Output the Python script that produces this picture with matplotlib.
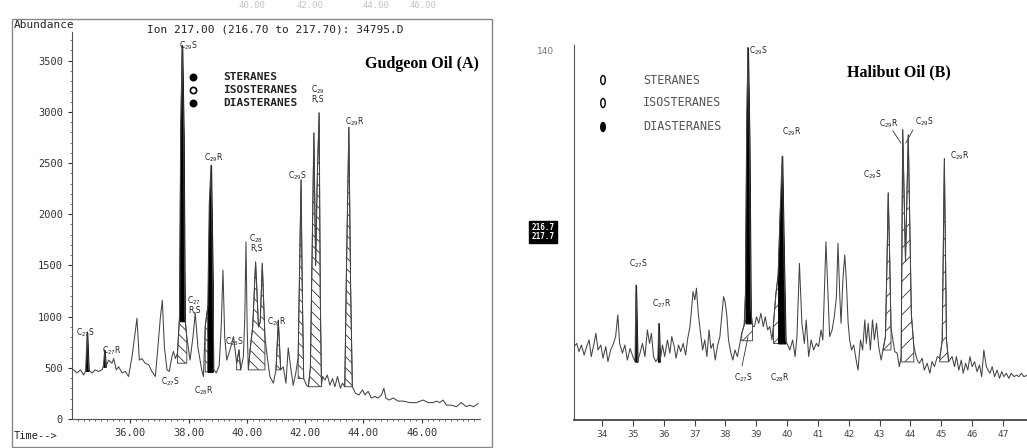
import numpy as np
import matplotlib.pyplot as plt
from matplotlib.lines import Line2D
from matplotlib.patches import Rectangle, Ellipse

# ---- Gudgeon oil (A), m/z 217 trace ----
a_time = [34.02, 34.06, 34.17, 34.29, 34.40, 34.47, 34.52, 34.57, 34.69, 34.80, 34.91, 35.03,
          35.08, 35.12, 35.16, 35.26, 35.37, 35.43, 35.52, 35.60, 35.72, 35.83, 35.94, 36.06,
          36.15, 36.23, 36.31, 36.40, 36.51, 36.63, 36.74, 36.86, 36.94, 37.03, 37.10, 37.17,
          37.26, 37.34, 37.43, 37.48, 37.55, 37.62, 37.69, 37.73, 37.78, 37.83, 37.87, 37.94,
          38.05, 38.15, 38.23, 38.32, 38.45, 38.51, 38.57, 38.66, 38.71, 38.77, 38.83, 38.87,
          38.95, 39.05, 39.12, 39.18, 39.24, 39.31, 39.42, 39.54, 39.65, 39.73, 39.79, 39.88,
          39.93, 39.97, 40.01, 40.05, 40.12, 40.20, 40.30, 40.40, 40.46, 40.53, 40.62, 40.70,
          40.79, 40.91, 41.00, 41.08, 41.16, 41.25, 41.34, 41.42, 41.50, 41.59, 41.68, 41.76,
          41.81, 41.86, 41.90, 41.95, 42.05, 42.11, 42.18, 42.25, 42.30, 42.36, 42.42, 42.48,
          42.52, 42.56, 42.60, 42.68, 42.76, 42.85, 42.94, 43.02, 43.11, 43.21, 43.28, 43.36,
          43.42, 43.50, 43.56, 43.62, 43.73, 43.85, 43.97, 44.05, 44.16, 44.27, 44.39, 44.50,
          44.62, 44.70, 44.77, 44.88, 45.02, 45.19, 45.36, 45.59, 45.82, 46.05, 46.22, 46.39,
          46.50, 46.62, 46.73, 46.85, 47.02, 47.19, 47.36, 47.53, 47.64, 47.78, 47.93]
a_abund = [480, 480, 450, 480, 430, 470, 850, 480, 450, 480, 465, 480,
           520, 675, 510, 575, 545, 590, 480, 510, 450, 465, 415, 610,
           805, 985, 575, 590, 545, 530, 465, 415, 675, 985, 1160, 705,
           480, 465, 610, 660, 590, 645, 1000, 2800, 3650, 2800, 1000, 800,
           575, 800, 1035, 700, 480, 415, 900, 1100, 2100, 2480, 1300, 480,
           450, 520, 900, 1455, 800, 575, 675, 805, 545, 675, 480, 610,
           1000, 1730, 900, 480, 700, 900, 1535, 900, 950, 1520, 800, 605,
           415, 350, 480, 965, 480, 510, 350, 695, 510, 330, 450, 600,
           1500, 2335, 1300, 395, 330, 315, 500, 1800, 2795, 1500, 2400, 2990,
           1200, 330, 415, 380, 430, 330, 395, 315, 415, 300, 350, 315,
           1500, 2850, 1300, 315, 250, 235, 285, 235, 270, 205, 220, 205,
           235, 300, 205, 185, 205, 175, 175, 160, 160, 185, 160, 160,
           175, 160, 185, 135, 135, 120, 160, 120, 135, 120, 150]

# ---- Halibut oil (B) trace ----
b_time = [33.09, 33.18, 33.25, 33.33, 33.42, 33.50, 33.58, 33.65, 33.74, 33.80, 33.87, 33.96,
          34.03, 34.12, 34.19, 34.28, 34.37, 34.44, 34.51, 34.57, 34.66, 34.74, 34.82, 34.91,
          35.00, 35.07, 35.10, 35.15, 35.23, 35.31, 35.39, 35.47, 35.54, 35.60, 35.67, 35.74,
          35.81, 35.84, 35.88, 35.96, 36.03, 36.12, 36.20, 36.26, 36.34, 36.40, 36.48, 36.55,
          36.63, 36.71, 36.77, 36.85, 36.90, 36.95, 37.01, 37.06, 37.12, 37.18, 37.26, 37.33,
          37.40, 37.47, 37.53, 37.60, 37.67, 37.74, 37.82, 37.89, 37.94, 37.99, 38.05, 38.10,
          38.18, 38.24, 38.31, 38.39, 38.47, 38.53, 38.61, 38.65, 38.69, 38.73, 38.78, 38.82,
          38.88, 38.94, 39.01, 39.08, 39.15, 39.23, 39.29, 39.37, 39.44, 39.51, 39.56, 39.64,
          39.71, 39.78, 39.84, 39.90, 39.95, 40.02, 40.09, 40.18, 40.26, 40.32, 40.40, 40.48,
          40.56, 40.62, 40.70, 40.78, 40.86, 40.95, 41.02, 41.10, 41.16, 41.22, 41.26, 41.32,
          41.38, 41.46, 41.53, 41.60, 41.65, 41.71, 41.75, 41.81, 41.87, 41.92, 41.98, 42.03,
          42.09, 42.16, 42.24, 42.30, 42.38, 42.45, 42.52, 42.57, 42.63, 42.70, 42.77, 42.83,
          42.90, 42.97, 43.05, 43.11, 43.19, 43.24, 43.28, 43.33, 43.37, 43.49, 43.57, 43.64,
          43.70, 43.75, 43.84, 43.93, 44.03, 44.11, 44.16, 44.22, 44.29, 44.38, 44.45, 44.54,
          44.63, 44.70, 44.78, 44.87, 44.95, 45.03, 45.10, 45.17, 45.24, 45.35, 45.43, 45.49,
          45.57, 45.65, 45.71, 45.79, 45.86, 45.93, 46.00, 46.08, 46.16, 46.24, 46.31, 46.38,
          46.46, 46.52, 46.58, 46.65, 46.73, 46.81, 46.89, 46.96, 47.03, 47.11, 47.19, 47.27,
          47.36, 47.44, 47.52, 47.60, 47.68, 47.79]
b_abund = [27.8, 29.0, 25.9, 28.4, 24.6, 27.8, 30.3, 24.0, 29.0, 32.8, 26.5, 28.4,
           23.4, 27.8, 22.1, 26.5, 29.0, 31.6, 39.8, 29.0, 25.3, 28.4, 22.7, 27.1,
           24.0, 22.1, 51.1, 22.1, 25.3, 29.0, 24.0, 34.1, 29.0, 32.8, 24.0, 22.1,
           23.4, 36.6, 22.1, 28.4, 24.0, 30.3, 25.3, 31.6, 27.8, 23.4, 28.4, 25.9,
           29.0, 24.6, 30.3, 35.4, 41.7, 48.6, 45.5, 49.9, 40.4, 34.1, 26.5, 30.3,
           24.0, 34.1, 27.1, 29.0, 22.7, 27.8, 31.6, 40.4, 46.7, 44.8, 39.1, 30.3,
           25.3, 22.7, 26.5, 24.0, 29.0, 32.8, 36.0, 48.0, 110.0, 141.0, 105.0, 42.0,
           35.4, 35.4, 39.1, 36.6, 40.4, 35.4, 39.1, 34.1, 35.4, 30.3, 36.6, 48.0,
           55.0, 80.0, 100.0, 60.0, 30.0, 28.4, 26.5, 30.3, 24.0, 31.6, 59.3, 36.6,
           29.0, 37.9, 24.0, 30.3, 26.5, 29.0, 27.8, 34.1, 30.3, 53.0, 67.5, 49.2,
           31.6, 34.1, 39.1, 46.7, 66.9, 46.7, 36.6, 53.0, 62.5, 53.0, 36.6, 30.3,
           26.5, 28.4, 22.7, 18.9, 30.3, 26.5, 37.9, 29.0, 36.6, 26.5, 37.9, 30.3,
           36.6, 27.8, 22.7, 26.5, 31.6, 60.0, 86.0, 60.0, 35.0, 25.9, 25.3, 20.2,
           24.0, 110.0, 60.0, 108.0, 40.0, 28.0, 25.3, 22.7, 21.5, 23.4, 18.9, 21.5,
           17.7, 22.1, 20.2, 24.0, 23.4, 30.0, 99.0, 30.0, 22.1, 24.0, 20.2, 24.0,
           18.9, 22.7, 17.7, 21.5, 18.9, 24.0, 20.2, 22.1, 18.3, 20.8, 16.4, 26.5,
           20.2, 18.9, 17.7, 20.2, 16.4, 18.9, 15.8, 18.3, 16.4, 17.7, 15.8, 17.7,
           16.4, 17.0, 16.4, 17.7, 16.4, 17.0]

# shaded peaks: (start, end, baseline, kind)
a_fills = [(37.62, 37.94, 545, "iso"), (38.57, 38.66, 460, "iso"), (39.65, 39.79, 480, "iso"),
           (40.05, 40.62, 480, "iso"), (41.00, 41.16, 480, "iso"), (41.76, 41.95, 395, "iso"),
           (42.11, 42.56, 315, "iso"), (43.36, 43.62, 315, "iso"),
           (34.47, 34.57, 470, "dia"), (35.08, 35.16, 510, "dia"),
           (37.69, 37.87, 955, "dia"), (38.66, 38.83, 460, "dia")]
b_fills = [(38.53, 38.88, 30.0, "iso"), (39.56, 39.78, 29.0, "iso"), (43.11, 43.37, 26.5, "iso"),
           (43.70, 44.11, 22.0, "iso"), (44.95, 45.24, 22.0, "iso"),
           (35.07, 35.15, 22.1, "dia"), (35.81, 35.88, 22.1, "dia"),
           (38.65, 38.82, 36.6, "dia"), (39.71, 39.95, 29.0, "dia")]

# handwritten peak names: (text, time, abundance)
a_names = [("C$_{29}$S", 37.99, 3644), ("C$_{29}$R", 38.88, 2550), ("C$_{28}$\nR,S", 40.32, 1720),
           ("C$_{29}$S", 41.72, 2374), ("C$_{29}$\nR,S", 42.44, 3175), ("C$_{29}$R", 43.71, 2902),
           ("C$_{27}$S", 34.46, 840), ("C$_{27}$R", 35.35, 664), ("C$_{27}$\nR,S", 38.19, 1114),
           ("C$_{28}$S", 39.56, 752), ("C$_{28}$R", 41.03, 948), ("C$_{27}$S", 37.37, 361),
           ("C$_{28}$R", 38.53, 274)]
b_names = [("C$_{29}$R", 40.16, 109), ("C$_{29}$S", 42.75, 93), ("C$_{29}$R", 43.30, 112),
           ("C$_{29}$S", 44.44, 113), ("C$_{29}$R", 45.60, 100), ("C$_{27}$S", 35.17, 59),
           ("C$_{27}$R", 35.94, 44), ("C$_{27}$S", 38.57, 16), ("C$_{28}$R", 39.77, 16)]

a_yticks = [0, 500, 1000, 1500, 2000, 2500, 3000, 3500]
a_xticks = [36, 38, 40, 42, 44, 46]
b_xticks = list(range(34, 48))
legend_names = ["STERANES", "ISOSTERANES", "DIASTERANES"]
# remains of the previous page's time axis, visible along the top edge
top_labels = ["40.00", "42.00", "44.00", "46.00"]

W, H = 1027, 448
plt.rcParams["hatch.linewidth"] = 0.6
MONO = "DejaVu Sans Mono"


def fx(x):
    return x / W


def fy(y):
    return 1 - y / H


def draw_trace(ax, t, v, fills, hatch):
    t = np.array(t)
    v = np.array(v)
    for start, end, base, kind in fills:
        mask = (t >= start - 1e-6) & (t <= end + 1e-6)
        if kind == "iso":
            ax.fill_between(t, v, base, where=mask, facecolor="white", edgecolor="#333",
                            hatch=hatch, linewidth=0.6, zorder=2)
    for start, end, base, kind in fills:
        mask = (t >= start - 1e-6) & (t <= end + 1e-6)
        if kind == "dia":
            ax.fill_between(t, v, base, where=mask, facecolor="black", edgecolor="black",
                            linewidth=0.8, zorder=3)
    ax.plot(t, v, color="#444", lw=0.75, zorder=4)


fig = plt.figure(figsize=(W / 100, H / 100), dpi=100)

# ---------------- panel A ----------------
axA = fig.add_axes([fx(72), fy(419), 408 / W, 387 / H])
draw_trace(axA, a_time, a_abund, a_fills, "\\\\\\")
axA.set_xlim(34.0, 48.0)
axA.set_ylim(0, 3780)
for s in ["top", "right"]:
    axA.spines[s].set_visible(False)
axA.spines["left"].set_color("#555")
axA.spines["bottom"].set_color("#555")
axA.set_yticks(a_yticks)
axA.set_yticks(np.arange(0, 3800, 100), minor=True)
axA.set_xticks(a_xticks)
axA.set_xticks(np.arange(34.2, 48.0, 0.2), minor=True)
axA.set_xticklabels([f"{x:.2f}" for x in a_xticks])
axA.tick_params(labelsize=7.5, colors="#333", length=3, width=0.8)
axA.tick_params(which="minor", length=1.5, width=0.6, colors="#555")
for lab in axA.get_xticklabels() + axA.get_yticklabels():
    lab.set_fontfamily(MONO)
for txt, t, v in a_names:
    axA.text(t, v, txt, fontsize=5.5, ha="center", va="center", color="#222",
             linespacing=0.9, zorder=5)

fig.add_artist(Rectangle((fx(12), fy(447)), 480 / W, 428 / H, transform=fig.transFigure,
                         fill=False, ec="#888", lw=1.0))
fig.text(fx(14), fy(25), "Abundance", family=MONO, fontsize=8, color="#222", va="center")
fig.text(fx(147), fy(29), "Ion 217.00 (216.70 to 217.70): 34795.D", family=MONO,
         fontsize=8, color="#222", va="center")
fig.text(fx(14), fy(436), "Time-->", family=MONO, fontsize=7.5, color="#222", va="center")
for xp, lab in zip([252, 310, 376, 423], top_labels):
    fig.text(fx(xp), fy(6), lab, family=MONO, fontsize=6.5, color="#c4c4c4",
             ha="center", va="center")
fig.text(fx(365), fy(64), "Gudgeon Oil (A)", family="Liberation Serif", weight="bold",
         fontsize=11.5, va="center")

for i, name in enumerate(legend_names):
    y = [77, 90, 103][i]
    face = "white" if name == "ISOSTERANES" else "black"
    fig.add_artist(Line2D([fx(193)], [fy(y)], marker="o", markersize=4.5, mfc=face,
                          mec="black", mew=1.2, transform=fig.transFigure))
    fig.text(fx(223), fy(y), name, family=MONO, fontsize=8, weight="bold",
             color="#222", va="center")

# ---------------- panel B ----------------
axB = fig.add_axes([fx(574), fy(420), 453 / W, 375 / H])
draw_trace(axB, b_time, b_abund, b_fills, "//")
axB.set_xlim(33.09, 47.78)
axB.set_ylim(0, 142)
for s in ["top", "right"]:
    axB.spines[s].set_visible(False)
axB.spines["left"].set_color("#555")
axB.spines["bottom"].set_color("#444")
axB.spines["bottom"].set_linewidth(1.3)
axB.set_xticks(b_xticks)
axB.set_yticks([140])
axB.tick_params(axis="x", labelsize=6.5, colors="#444", length=4, width=0.8)
axB.tick_params(axis="y", labelsize=6.5, colors="#777", length=0, pad=14)
for txt, t, v in b_names:
    axB.text(t, v, txt, fontsize=5.5, ha="center", va="center", color="#222", zorder=5)
axB.text(38.76, 140, "C$_{29}$S", fontsize=5.5, ha="left", va="center", color="#222")
axB.plot([38.54, 38.73], [20.5, 31.4], color="#333", lw=0.6)
axB.plot([43.43, 43.69], [109.5, 104.9], color="#333", lw=0.6)
axB.plot([44.08, 43.85], [109.8, 104.9], color="#333", lw=0.6)

fig.text(fx(847), fy(72), "Halibut Oil (B)", family="Liberation Serif", weight="bold",
         fontsize=11.5, va="center")
fig.text(fx(543), fy(232), "216.7\n217.7", family=MONO, fontsize=5.5, weight="bold",
         color="white", ha="center", va="center", linespacing=0.9,
         bbox=dict(facecolor="black", edgecolor="black", pad=1.5))

for i, name in enumerate(legend_names):
    y = [80, 103, 127][i]
    face = "black" if name == "DIASTERANES" else "white"
    fig.add_artist(Ellipse((fx(603), fy(y)), 4.5 / W, 9 / H, transform=fig.transFigure,
                           fc=face, ec="black", lw=1.0))
    fig.text(fx(643), fy(y), name, family=MONO, fontsize=8.5, color="#555", va="center")

fig.savefig("out.png", dpi=100)
